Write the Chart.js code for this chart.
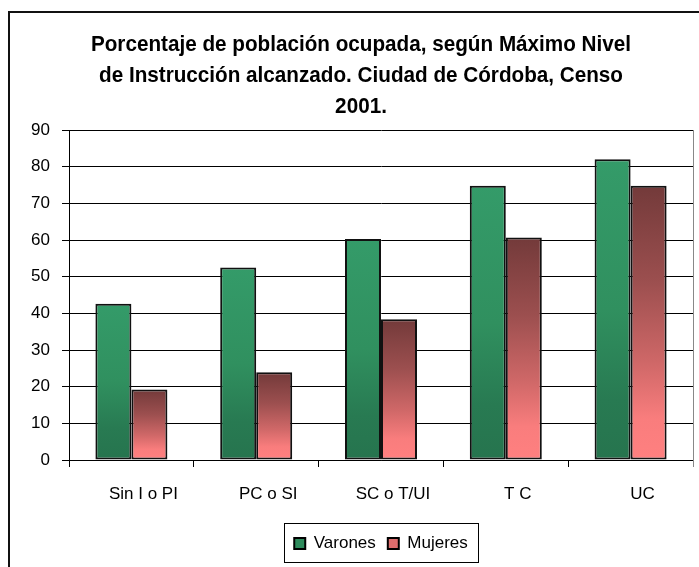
<!DOCTYPE html>
<html>
<head>
<meta charset="utf-8">
<script src="https://cdn.jsdelivr.net/npm/chart.js@4/dist/chart.umd.min.js"></script>
<style>
  body { margin: 0; background: #fff; }
  #caja { position: absolute; left: 0; top: 0; width: 699px; height: 567px; }
</style>
</head>
<body>
<div id="caja"><canvas id="cvs_grafico" width="699" height="567"></canvas></div>
<script>
// datos
const categorias = ["Sin I o PI", "PC o SI", "SC o T/UI", "T C", "UC"];
const varones = [42.6, 52.5, 60.3, 74.8, 82.0];
const mujeres = [19.2, 23.9, 38.4, 60.7, 74.8];
const ticksY = [0, 10, 20, 30, 40, 50, 60, 70, 80, 90];
const tituloLineas = [
  "Porcentaje de población ocupada, según Máximo Nivel",
  "de Instrucción alcanzado. Ciudad de Córdoba, Censo",
  "2001.",
];

// degradado vertical por barra, calculado con la escala Y
function degradado(context, paradas, solido) {
  const chart = context.chart;
  if (!chart.chartArea || context.type !== "data") return solido;
  const escalaY = chart.scales.y;
  const arriba = escalaY.getPixelForValue(context.parsed.y);
  const abajo = escalaY.getPixelForValue(0);
  const g = chart.ctx.createLinearGradient(0, arriba, 0, abajo);
  paradas.forEach((p) => g.addColorStop(p[0], p[1]));
  return g;
}

const paradasVarones = [
  [0, "#349b69"],
  [0.5, "#30905f"],
  [0.8, "#287a52"],
  [1, "#26744e"],
];
const paradasMujeres = [
  [0, "#733a3a"],
  [0.35, "#9c4f4f"],
  [0.65, "#d06868"],
  [0.85, "#f97d7d"],
  [1, "#ff8080"],
];

// marco, título y recuadro de la leyenda
const adornos = {
  id: "adornos",
  beforeDraw(chart) {
    const ctx = chart.ctx;
    ctx.save();
    ctx.fillStyle = "#fff";
    ctx.fillRect(0, 0, chart.width, chart.height);
    ctx.fillStyle = "#111";
    ctx.fillRect(8, 11, 2, chart.height);
    ctx.fillRect(8, 11, chart.width, 2);
    ctx.restore();
  },
  afterDraw(chart) {
    const ctx = chart.ctx;
    const area = chart.chartArea;
    ctx.save();
    // borde derecho del área de trazado
    ctx.strokeStyle = "#888";
    ctx.lineWidth = 1;
    ctx.beginPath();
    ctx.moveTo(area.right + 0.5, area.top);
    ctx.lineTo(area.right + 0.5, area.bottom + 7);
    ctx.stroke();

    // título
    ctx.fillStyle = "#000";
    ctx.font = "bold 22px 'Liberation Sans', Arial, sans-serif";
    ctx.textAlign = "center";
    ctx.textBaseline = "alphabetic";
    tituloLineas.forEach((linea, i) => {
      ctx.save();
      ctx.translate(361, 51 + i * 31);
      ctx.scale(0.94, 1);
      ctx.fillText(linea, 0, 0);
      ctx.restore();
    });

    // recuadro de la leyenda
    const leyenda = chart.legend;
    if (leyenda && leyenda.legendHitBoxes.length) {
      const cajas = leyenda.legendHitBoxes;
      const izq = Math.min(...cajas.map((b) => b.left)) - 10;
      const der = Math.max(...cajas.map((b) => b.left + b.width)) + 10;
      ctx.strokeStyle = "#000";
      ctx.lineWidth = 1;
      ctx.strokeRect(Math.round(izq) + 0.5, leyenda.top + 0.5, Math.round(der - izq), leyenda.bottom - leyenda.top);
    }
    ctx.restore();
  },
};

const fuente = { family: "'Liberation Sans', Arial, sans-serif", size: 17 };

new Chart(document.getElementById("cvs_grafico"), {
  type: "bar",
  data: {
    labels: categorias,
    datasets: [
      {
        label: "Varones",
        data: varones,
        backgroundColor: (c) => degradado(c, paradasVarones, "#2e8b5c"),
        borderColor: "#111",
        borderWidth: 2,
        borderSkipped: false,
      },
      {
        label: "Mujeres",
        data: mujeres,
        backgroundColor: (c) => degradado(c, paradasMujeres, "#de6e6e"),
        borderColor: "#111",
        borderWidth: 2,
        borderSkipped: false,
      },
    ],
  },
  options: {
    responsive: false,
    animation: false,
    categoryPercentage: 0.577,
    barPercentage: 1.0,
    layout: { padding: { top: 130, right: 6, bottom: 5, left: 0 } },
    plugins: {
      title: { display: false },
      tooltip: { enabled: false },
      legend: {
        display: true,
        position: "bottom",
        fullSize: false,
        labels: {
          color: "#000",
          font: { family: fuente.family, size: 17 },
          boxWidth: 11,
          boxHeight: 11,
          padding: 12,
          generateLabels: (chart) =>
            chart.data.datasets.map((ds, i) => ({
              text: ds.label,
              fillStyle: i === 0 ? "#2e8b5c" : "#de6e6e",
              strokeStyle: "#000",
              lineWidth: 2,
              datasetIndex: i,
              fontColor: "#000",
            })),
        },
      },
    },
    scales: {
      x: {
        offset: true,
        afterFit: (s) => { s.height = 63; },
        grid: {
          display: true,
          offset: true,
          drawOnChartArea: false,
          drawTicks: true,
          tickLength: 7,
          color: "#000",
        },
        border: { color: "#000", width: 1 },
        ticks: { color: "#000", font: fuente, padding: 17, labelOffset: 12, maxRotation: 0 },
      },
      y: {
        min: 0,
        max: 90,
        afterFit: (s) => { s.width = 69; },
        afterBuildTicks: (s) => { s.ticks = ticksY.map((v) => ({ value: v })); },
        grid: { color: "#000", lineWidth: 1, tickLength: 7 },
        border: { color: "#000", width: 1 },
        ticks: { color: "#000", font: fuente, padding: 12 },
      },
    },
  },
  plugins: [adornos],
});
</script>
</body>
</html>
